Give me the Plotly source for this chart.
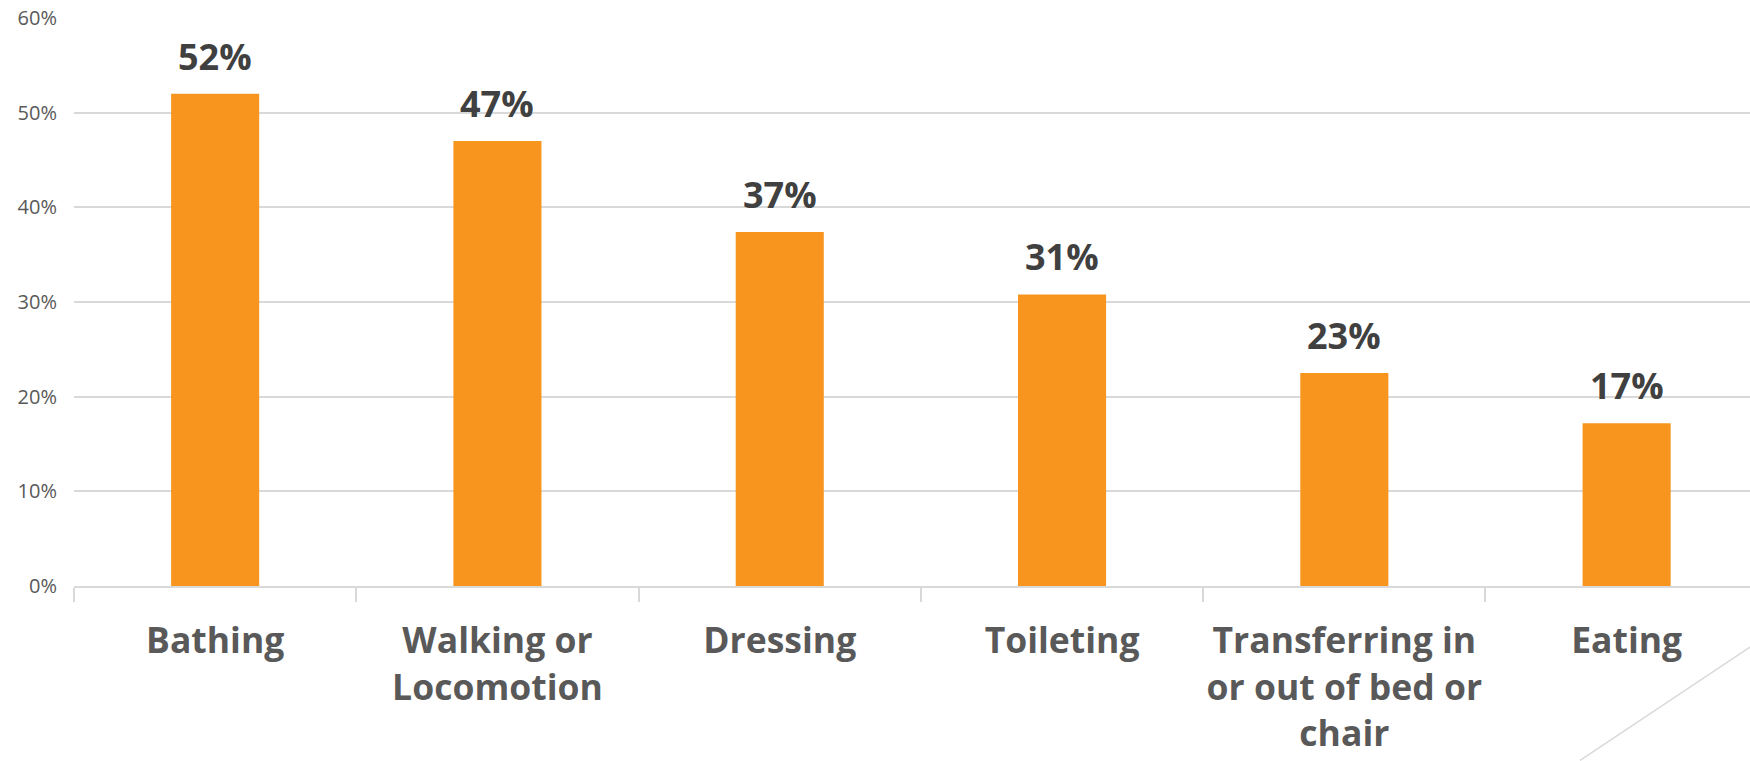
import plotly.graph_objects as go

categories = ["Bathing", "Walking or<br>Locomotion", "Dressing", "Toileting",
              "Transferring in<br>or out of bed or<br>chair", "Eating"]
values = [0.52, 0.47, 0.374, 0.308, 0.225, 0.172]
labels = ["52%", "47%", "37%", "31%", "23%", "17%"]
yticks = [0, 0.1, 0.2, 0.3, 0.4, 0.5, 0.6]
yticklabels = ["0%", "10%", "20%", "30%", "40%", "50%", "60%"]

BAR = "#F7951F"
GRID = "#D9D9D9"
FONT = "Open Sans"

fig = go.Figure()
fig.add_trace(go.Bar(x=categories, y=values, marker=dict(color=BAR, line=dict(width=0)),
                     hoverinfo="skip"))

for c, v, t in zip(categories, values, labels):
    fig.add_annotation(x=c, y=v, text=t, showarrow=False, yanchor="bottom",
                       yshift=11, font=dict(family=FONT, size=36, color="#404040", weight="bold"))

fig.add_shape(type="line", xref="paper", yref="paper", x0=1.0, y0=-0.1075, x1=0.8986, y1=-0.307,
              line=dict(color=GRID, width=1.5))

fig.update_layout(
    width=1750, height=761,
    margin=dict(l=74, r=0, t=18, b=175),
    plot_bgcolor="white", paper_bgcolor="white",
    bargap=0.688, showlegend=False,
    font=dict(family=FONT),
)
fig.update_xaxes(range=[-0.5, 5.437], showgrid=False, showline=True, linecolor=GRID, linewidth=1.5,
                 ticks="outside", tickson="boundaries", ticklen=14, tickcolor=GRID, tickwidth=1.5,
                 tickfont=dict(family=FONT, size=35.5, color="#595959", weight="bold"),
                 tickangle=0, automargin=False,
                 ticklabelstandoff=23, fixedrange=True)
fig.update_yaxes(range=[0, 0.6], tickvals=yticks, ticktext=yticklabels, showgrid=True,
                 gridcolor=GRID, gridwidth=1.5, zeroline=False, showline=False,
                 tickfont=dict(family=FONT, size=20, color="#595959"), ticks="",
                 automargin=False, ticklabelstandoff=16, fixedrange=True)

fig.write_html("out.html")
